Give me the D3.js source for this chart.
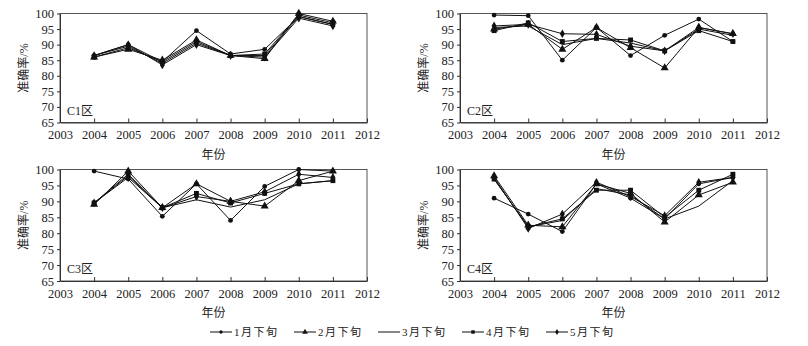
<!DOCTYPE html>
<html lang="zh">
<head>
    <meta charset="UTF-8">
    <title>准确率</title>
    <script src="https://cdn.jsdelivr.net/npm/d3@7/dist/d3.min.js"></script>
    <style>
        body { margin: 0; background: #fff; }
        text { font-family: "Liberation Serif", "Noto Sans CJK SC", serif; fill: #222; }
    </style>
</head>
<body>
    <script>
        var w = 808;
        var h = 346;

        // data
        var years = [2004, 2005, 2006, 2007, 2008, 2009, 2010, 2011];
        var seriesNames = ['1月下旬', '2月下旬', '3月下旬', '4月下旬', '5月下旬'];
        var regions = ['C1区', 'C2区', 'C3区', 'C4区'];
        var xTicks = [2003, 2004, 2005, 2006, 2007, 2008, 2009, 2010, 2011, 2012];
        var yTicks = [65, 70, 75, 80, 85, 90, 95, 100];

        var c1 = [
            [86.5, 90, 84.5, 94.5, 87, 88.5, 99, 96.5],
            [86, 88.5, 85, 91.5, 86.5, 85.5, 100, 97.5],
            [86.5, 89.5, 84, 90.5, 86.5, 86.5, 99, 96.5],
            [86, 89, 84.5, 91, 86.5, 87, 99.5, 97],
            [86.5, 90, 83.5, 90, 86.5, 86, 98.5, 96]
        ];
        var c2 = [
            [99.5, 99.3, 85, 95.5, 86.5, 93, 98.2, 91],
            [95, 96.5, 88.5, 95.5, 89, 82.5, 95.5, 93.5],
            [95.5, 96, 90, 92, 90.5, 88, 95, 93],
            [94.5, 97, 91, 92, 91.5, 88, 94.5, 91],
            [96, 96.5, 93.5, 93.3, 89.5, 88, 95.5, 93.5]
        ];
        var c3 = [
            [99.5, 97, 85.3, 95.5, 84, 94.7, 100, 99.5],
            [89, 99.5, 88, 95.5, 90, 88.5, 96.5, 99.5],
            [89.5, 98, 88, 90.5, 88.2, 90.5, 95.5, 96.5],
            [89.5, 98.5, 88, 92.5, 89.5, 92.5, 95.5, 96.5],
            [89.5, 97.5, 88, 91.5, 90, 93, 98.5, 97.5]
        ];
        var c4 = [
            [91, 86, 80.5, 95.5, 91, 84.5, 95.5, 97.5],
            [98, 82.5, 82, 95.5, 92.5, 83.5, 92, 96],
            [97, 82, 84, 94, 92, 84.5, 88.5, 96.5],
            [97, 82, 84.5, 93.5, 93.5, 85, 93.5, 98.5],
            [97.5, 81.5, 86, 96, 91.5, 85.5, 96, 97.5]
        ];
        var panelData = [c1, c2, c3, c4];

        // marker per series (null = plain line)
        var symbols = [d3.symbolCircle, d3.symbolTriangle, null, d3.symbolSquare, d3.symbolDiamond];
        var symbolSizes = [18, 28, 0, 24, 22];

        // panel positions
        var panels = [
            {x0: 60, x1: 367, y0: 13.5, y1: 122.5},
            {x0: 460, x1: 767, y0: 13.5, y1: 122.5},
            {x0: 60, x1: 367, y0: 169.5, y1: 281},
            {x0: 460, x1: 767, y0: 169.5, y1: 281}
        ];

        var svg = d3.select('body')
                    .append('svg')
                    .attr('width', w)
                    .attr('height', h);

        panels.forEach(function(p, pi) {
            var xScale = d3.scaleLinear()
                            .domain([2003, 2012])
                            .range([p.x0, p.x1]);
            var yScale = d3.scaleLinear()
                            .domain([65, 100])
                            .range([p.y1, p.y0]);

            var g = svg.append('g');

            // frame
            g.append('rect')
                .attr('x', p.x0)
                .attr('y', p.y0)
                .attr('width', p.x1 - p.x0)
                .attr('height', p.y1 - p.y0)
                .attr('fill', 'none')
                .attr('stroke', '#555')
                .attr('stroke-width', 1);

            var xAxis = d3.axisBottom(xScale)
                            .tickValues(xTicks)
                            .tickFormat(d3.format('d'))
                            .tickSizeInner(-4)
                            .tickSizeOuter(0)
                            .tickPadding(8);
            var yAxis = d3.axisLeft(yScale)
                            .tickValues(yTicks)
                            .tickSizeInner(3)
                            .tickSizeOuter(0)
                            .tickPadding(3);

            g.append('g')
                .attr('transform', 'translate(0,' + p.y1 + ')')
                .call(xAxis)
                .call(function(a) {
                    a.select('.domain').attr('stroke', '#333');
                    a.selectAll('line').attr('stroke', '#333');
                    a.selectAll('text').attr('font-size', 12.5).attr('fill', '#222')
                        .attr('font-family', '"Liberation Serif", serif');
                });

            g.append('g')
                .attr('transform', 'translate(' + p.x0 + ',0)')
                .call(yAxis)
                .call(function(a) {
                    a.select('.domain').attr('stroke', '#333');
                    a.selectAll('line').attr('stroke', '#333');
                    a.selectAll('text').attr('font-size', 12.5).attr('fill', '#222')
                        .attr('font-family', '"Liberation Serif", serif');
                });

            // axis titles
            g.append('text')
                .attr('x', (p.x0 + p.x1) / 2)
                .attr('y', p.y1 + 36)
                .attr('text-anchor', 'middle')
                .attr('font-size', 12)
                .text('年份');

            g.append('text')
                .attr('transform', 'translate(' + (p.x0 - 32) + ',' + ((p.y0 + p.y1) / 2) + ') rotate(-90)')
                .attr('text-anchor', 'middle')
                .attr('font-size', 12)
                .text('准确率/%');

            // region label
            g.append('text')
                .attr('x', p.x0 + 7)
                .attr('y', p.y1 - 8)
                .attr('font-size', 12)
                .text(regions[pi]);

            var line = d3.line()
                .x(function(d, i) { return xScale(years[i]); })
                .y(function(d) { return yScale(d); });

            panelData[pi].forEach(function(vals, si) {
                g.append('path')
                    .datum(vals)
                    .attr('d', line)
                    .attr('fill', 'none')
                    .attr('stroke', '#111')
                    .attr('stroke-width', 1);

                if (symbols[si]) {
                    g.selectAll('.m' + si)
                        .data(vals)
                        .enter()
                        .append('path')
                        .attr('class', 'm' + si)
                        .attr('transform', function(d, i) {
                            return 'translate(' + xScale(years[i]) + ',' + yScale(d) + ')';
                        })
                        .attr('d', d3.symbol().type(symbols[si]).size(symbolSizes[si]))
                        .attr('fill', '#111');
                }
            });
        });

        // legend
        var legendX = d3.scalePoint()
                        .domain(seriesNames)
                        .range([210, 546]);
        var legend = svg.append('g')
                        .selectAll('g')
                        .data(seriesNames)
                        .enter()
                        .append('g')
                        .attr('transform', function(d) {
                            return 'translate(' + legendX(d) + ',332)';
                        });

        legend.append('line')
            .attr('x1', 0)
            .attr('x2', 22)
            .attr('y1', 0)
            .attr('y2', 0)
            .attr('stroke', '#111')
            .attr('stroke-width', 1);

        // legend markers are drawn smaller than in the plots
        legend.append('path')
            .attr('transform', 'translate(11,0)')
            .attr('d', function(d, i) {
                return symbols[i] ? d3.symbol().type(symbols[i]).size(symbolSizes[i] * 0.5)() : '';
            })
            .attr('fill', '#111');

        legend.append('text')
            .attr('x', 24)
            .attr('y', 4)
            .attr('font-size', 11)
            .attr('letter-spacing', 1.5)
            .text(function(d) { return d; });
    </script>
</body>
</html>
